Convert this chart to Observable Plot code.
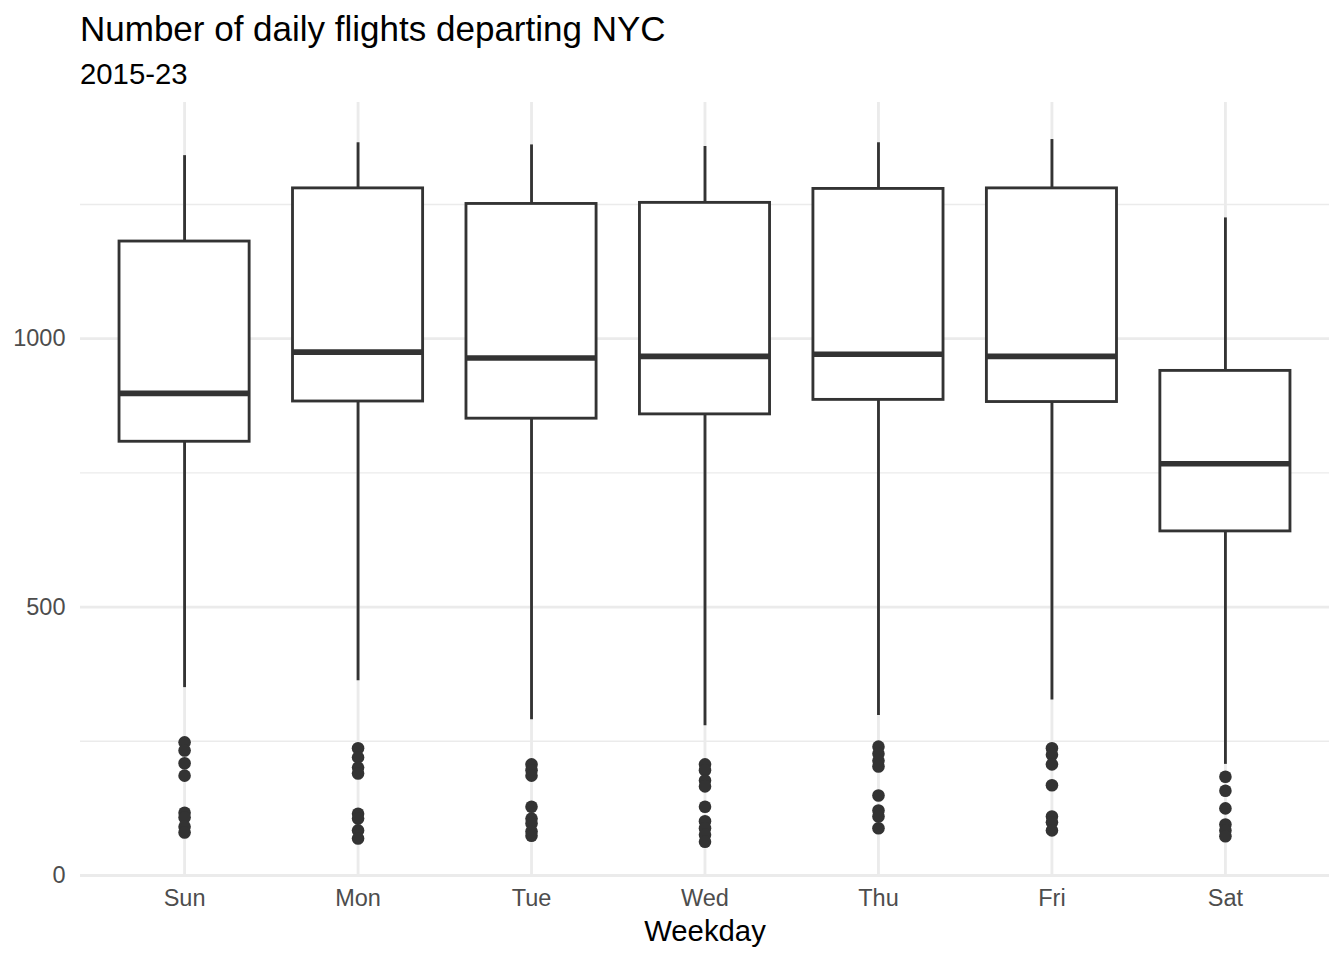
<!DOCTYPE html>
<html>
<head>
<meta charset="utf-8">
<script src="https://cdn.jsdelivr.net/npm/d3@7"></script>
<script src="https://cdn.jsdelivr.net/npm/@observablehq/plot@0.6"></script>
<style>
  html, body { margin: 0; padding: 0; background: #fff; }
  body { width: 1344px; height: 960px; overflow: hidden; font-family: "Liberation Sans", Arial, Helvetica, sans-serif; }
  #header { position: relative; height: 100px; }
  #title { position: absolute; left: 80px; top: 11px; font-size: 35px; line-height: 35px; color: #000; white-space: nowrap; }
  #subtitle { position: absolute; left: 80px; top: 59px; font-size: 29.3px; line-height: 29.3px; color: #000; white-space: nowrap; }
  #chart svg { display: block; }
</style>
</head>
<body>
<div id="header">
  <div id="title">Number of daily flights departing NYC</div>
  <div id="subtitle">2015-23</div>
</div>
<div id="chart"></div>
<script>
// ---- data ----
const days      = ["Sun", "Mon", "Tue", "Wed", "Thu", "Fri", "Sat"];
const whiskerHi = [1341, 1365, 1361, 1358, 1365, 1371, 1225];
const q3        = [1181, 1280, 1251, 1253, 1279, 1280, 940];
const median    = [898, 975, 964, 967, 971, 967, 767];
const q1        = [808, 883, 851, 859, 886, 882, 641];
const whiskerLo = [350, 363, 290, 279, 298, 327, 207];
const outliers  = [
  [248, 233, 209, 186, 117, 108, 91, 80],        // Sun
  [237, 220, 201, 190, 115, 106, 84, 69],        // Mon
  [207, 196, 186, 128, 106, 97, 82, 74],         // Tue
  [207, 196, 177, 166, 128, 101, 88, 76, 63],    // Wed
  [240, 227, 214, 203, 149, 121, 110, 88],       // Thu
  [237, 225, 207, 168, 110, 99, 84],             // Fri
  [184, 158, 125, 95, 84, 73]                    // Sat
];
const yMajorTicks = [0, 500, 1000];
const yMinorTicks = [250, 750, 1250];
const xLabel = "Weekday";

// ---- tables built from the arrays ----
const stats = days.map((d, i) => ({day: d, lo: whiskerLo[i], q1: q1[i], med: median[i], q3: q3[i], hi: whiskerHi[i]}));
const outlierRows = days.flatMap((d, i) => outliers[i].map(v => ({day: d, value: v})));

const ink = "#333333";
const grid = "#EBEBEB";

const chart = Plot.plot({
  width: 1344,
  height: 860,
  marginLeft: 80,
  marginRight: 15,
  marginTop: 2,
  marginBottom: 85,
  style: {fontFamily: "'Liberation Sans', Arial, Helvetica, sans-serif", fontSize: "23.5px", background: "#fff"},
  x: {type: "band", domain: days, paddingInner: 0.25, paddingOuter: 0.225, round: false, label: null},
  y: {domain: [0, 1440], label: null},
  marks: [
    Plot.gridY(yMinorTicks, {stroke: grid, strokeOpacity: 1, strokeWidth: 1.4}),
    Plot.gridY(yMajorTicks, {stroke: grid, strokeOpacity: 1, strokeWidth: 2.85}),
    Plot.gridX({stroke: grid, strokeOpacity: 1, strokeWidth: 2.85}),
    Plot.axisY(yMajorTicks, {tickSize: 0, tickPadding: 15, fill: "#4D4D4D", label: null, fontSize: 23.5, tickFormat: d => String(d)}),
    Plot.axisX({tickSize: 0, tickPadding: 14, fill: "#4D4D4D", label: null, fontSize: 23.5}),
    Plot.ruleX(stats, {x: "day", y1: "lo", y2: "q1", stroke: ink, strokeWidth: 2.85}),
    Plot.ruleX(stats, {x: "day", y1: "q3", y2: "hi", stroke: ink, strokeWidth: 2.85}),
    Plot.barY(stats, {x: "day", y1: "q1", y2: "q3", fill: "white", stroke: ink, strokeWidth: 2.85}),
    Plot.tickY(stats, {x: "day", y: "med", stroke: ink, strokeWidth: 5.7}),
    Plot.dot(outlierRows, {x: "day", y: "value", r: 6.3, fill: ink, stroke: null}),
    Plot.text([xLabel], {frameAnchor: "bottom", lineAnchor: "bottom", dy: 65, fontSize: 29.3, fill: "#000", text: d => d})
  ]
});
document.getElementById("chart").appendChild(chart);
</script>
</body>
</html>
